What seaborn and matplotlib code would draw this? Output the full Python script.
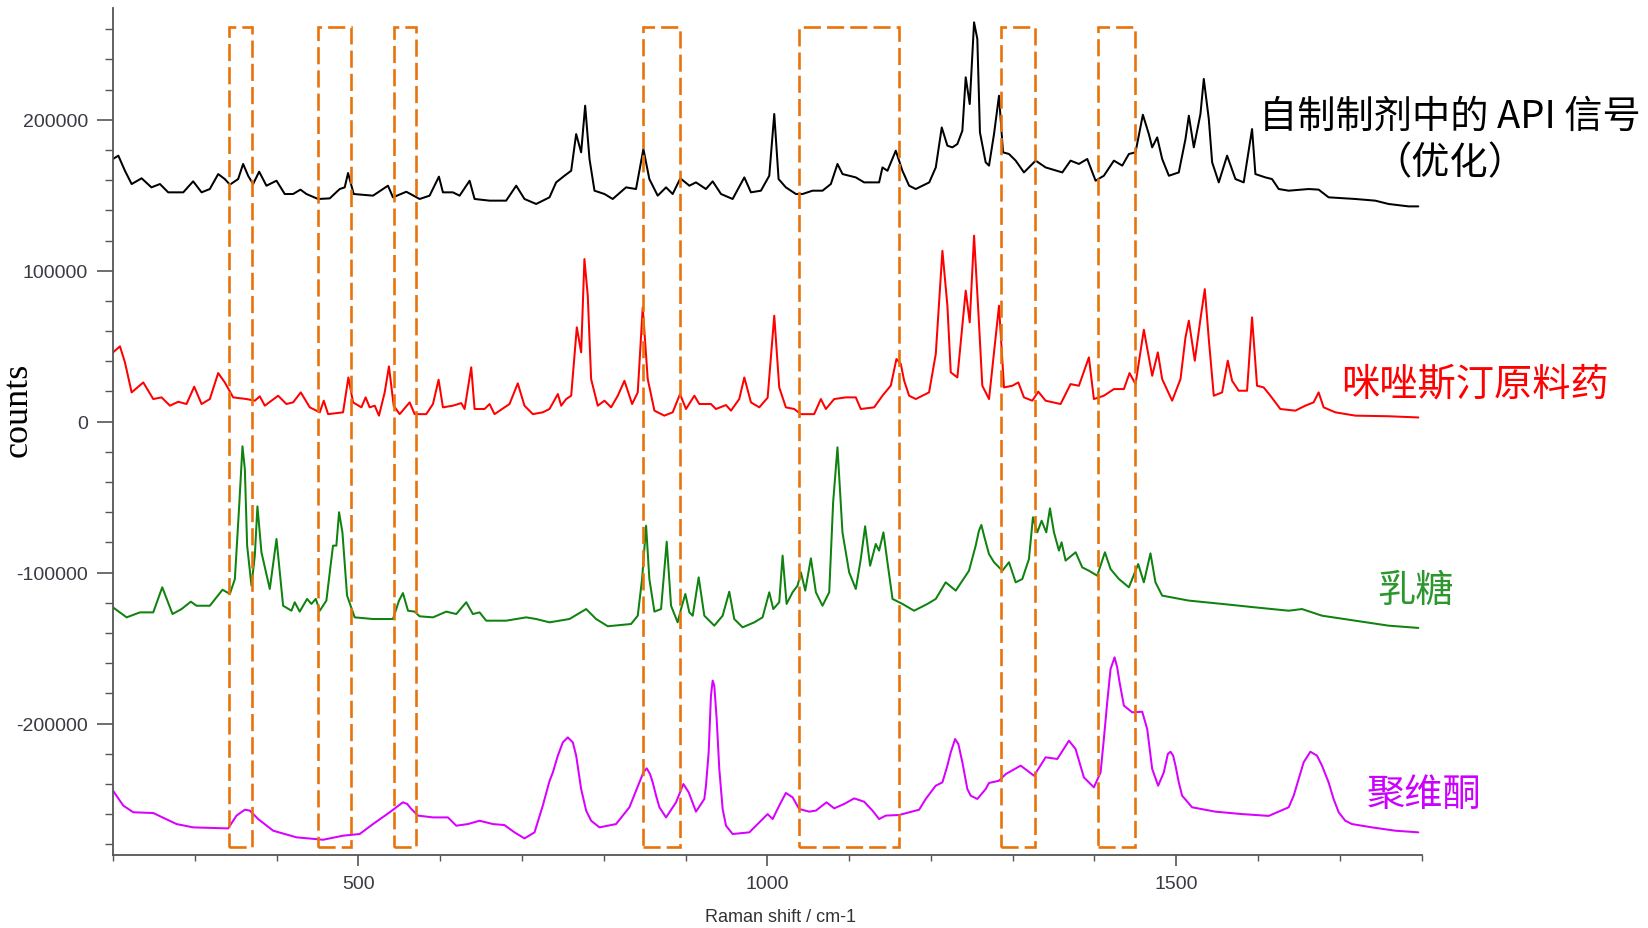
import matplotlib
matplotlib.use("Agg")
import matplotlib.pyplot as plt
import numpy as np
import pandas as pd
import seaborn as sns
from matplotlib.patches import Rectangle
from matplotlib.ticker import MultipleLocator, FuncFormatter

# ---------------- data (Raman shift / counts) ----------------
api_x = [200, 206.5, 214.6, 222.8, 235, 247, 257.4, 267.5, 285.9, 298, 308.3, 318.4, 328.6, 336.7, 342.9, 353,
         359.1, 365.2, 371.3, 378.7, 387.6, 399.9, 410, 420.2, 429.2, 436.5, 450.7, 465, 477.2, 483.3, 487.4, 494.3,
         517.9, 536.2, 542.3, 558.6, 574.9, 587.1, 598.5, 603.4, 615.6, 623.8, 636, 642.1, 660.4, 680.7, 693, 703.1,
         717.4, 733.7, 741.8, 752, 760.2, 766.3, 772.4, 777.3, 782.6, 788.7, 800.9, 811, 827.3, 839.5, 848.5, 855.8,
         866, 876.2, 884.3, 893.7, 904.7, 912.8, 925, 933.2, 943.4, 957.6, 971.9, 980, 992.2, 1002.4, 1008.5, 1013.8,
         1022.7, 1035, 1043.1, 1055.3, 1067.5, 1077.7, 1085.8, 1092, 1108.2, 1118.4, 1136.7, 1140.8, 1146.9, 1157.1,
         1165.2, 1173.4, 1181.5, 1198, 1206, 1213.3, 1220.2, 1226.3, 1232.4, 1238.5, 1242.6, 1247.5, 1252.8, 1256.8,
         1260, 1267, 1271.1, 1277.2, 1283.3, 1288.2, 1295.5, 1303.7, 1313.8, 1328.1, 1340.3, 1360.7, 1370.8, 1381,
         1391.2, 1401.4, 1411.5, 1423.8, 1434, 1442.1, 1450.2, 1459.2, 1466.5, 1470.6, 1476.7, 1482.8, 1491, 1503.1,
         1511.3, 1515.4, 1521.5, 1529.6, 1533.7, 1539.8, 1543.9, 1552, 1562.2, 1572.4, 1582.5, 1592.7, 1596.8, 1609,
         1617.1, 1625.3, 1637.5, 1661.9, 1674.1, 1686.3, 1719, 1743.3, 1759.6, 1784.1, 1796]
api_y = [174000, 176200, 166200, 157400, 161200, 155200, 157400, 151900, 151900, 159200, 151900, 154100, 164000,
         160700, 157000, 160700, 170700, 162900, 157400, 165600, 156300, 159600, 150800, 150800, 153700, 150800,
         147500, 147900, 154100, 155200, 164700, 150800, 149700, 156300, 148600, 152300, 147500, 149700, 162300,
         151900, 151900, 149700, 159600, 147500, 146400, 146400, 156300, 147500, 144200, 148600, 158500, 162900,
         166200, 190500, 178400, 209300, 174000, 153000, 150800, 147500, 155200, 154100, 180600, 160700, 149700,
         155200, 150800, 161200, 156300, 158500, 154100, 159200, 150800, 147500, 161800, 151900, 153000, 162900,
         203800, 160700, 155200, 150800, 150800, 153000, 153000, 157400, 170700, 164000, 161800, 158500, 158500,
         168400, 166200, 179500, 166200, 156300, 154100, 158500, 168400, 194900, 182800, 181700, 183900, 192700,
         228100, 210400, 264500, 253500, 191600, 171800, 169600, 190500, 215900, 178400, 177300, 172900, 165100,
         172900, 168400, 165100, 172900, 170700, 174000, 159600, 162900, 172900, 169600, 177300, 178400, 203300,
         190500, 181700, 188300, 174000, 162900, 165100, 187200, 202700, 181700, 203800, 227000, 200500, 171800,
         158500, 176200, 160700, 158500, 193800, 164000, 161800, 160700, 154100, 153000, 154100, 153700, 148600,
         147500, 146400, 144200, 142600, 142600]

raw_x = [200, 208.5, 214.6, 222.8, 237, 249.2, 259.4, 269.6, 279.8, 289.9, 299.3, 308.3, 318.4, 328.6, 336.7, 346.9,
         363.2, 373.4, 379.5, 385.6, 401.9, 412, 420.2, 429.6, 440.6, 452.8, 457.7, 463, 481.3, 487.8, 493.5, 503.7,
         508.9, 513.8, 520, 525.2, 532.2, 537.4, 543.2, 550.5, 562.7, 568.8, 583, 591.2, 598.1, 603.4, 615.6, 625.8,
         629.9, 638, 642.1, 654.3, 660.4, 666.5, 684.8, 694.9, 703.1, 713.3, 725.5, 733.7, 743.9, 748, 754.1, 760.2,
         767.1, 772.4, 776.4, 780.5, 784.6, 792.7, 800.9, 809, 817.2, 825.3, 834.7, 841.6, 847.7, 853.8, 862, 874.1,
         884.3, 893.3, 900.6, 910.8, 916.9, 931.1, 937.2, 949.5, 955.6, 965.7, 971.9, 980, 990.2, 1000.4, 1008.5,
         1014.6, 1022.7, 1032.9, 1041.1, 1057.3, 1065.5, 1071.6, 1081.8, 1096, 1108.2, 1114.3, 1130.6, 1140.8, 1151,
         1157.9, 1163.2, 1167.3, 1173.4, 1181.5, 1197.8, 1206, 1214.1, 1220.2, 1224.3, 1232.4, 1238.5, 1242.6, 1247.5,
         1252.8, 1258.1, 1262.9, 1271.1, 1277.2, 1283.3, 1289.4, 1299.6, 1306.9, 1313.8, 1324, 1331.3, 1340.3,
         1358.6, 1370.8, 1381, 1393.2, 1399.3, 1411.5, 1423.8, 1436, 1442.9, 1450.2, 1460.4, 1470.6, 1477.5, 1482.8,
         1495, 1505.2, 1511.3, 1515.4, 1522.7, 1529.6, 1534.9, 1539.8, 1545.9, 1556.1, 1563, 1568.3, 1576.4, 1586.6,
         1592.7, 1598.8, 1606.9, 1615.1, 1627.3, 1645.6, 1657.8, 1668, 1674.1, 1680.2, 1694.5, 1719, 1759.6, 1796]
raw_y = [45900, 49900, 39300, 19400, 26000, 15000, 16100, 10600, 13200, 11700, 23200, 11700, 15000, 32200, 26000,
         16100, 15000, 13900, 16800, 10600, 17200, 11700, 12800, 19400, 9500, 6200, 13900, 5000, 6200, 29300, 12800,
         9500, 16100, 9500, 10600, 4000, 19400, 36600, 10600, 5000, 12800, 5000, 5000, 11700, 27800, 9500, 10600,
         12300, 8400, 36000, 8400, 8400, 11700, 5000, 11700, 25400, 10600, 5000, 6200, 8400, 18300, 10600, 15000,
         17200, 62500, 45900, 107700, 83400, 28200, 10600, 13900, 9500, 17200, 27100, 11700, 19400, 75700, 28200,
         7300, 4000, 6200, 18300, 8400, 17200, 11700, 11700, 8400, 11000, 7300, 15000, 29300, 12800, 9500, 15900,
         70200, 22700, 9500, 8400, 5000, 5000, 15000, 8400, 15000, 16100, 16100, 8400, 9500, 17200, 23900, 41500,
         38300, 27200, 17200, 15000, 19400, 44900, 113200, 76800, 32700, 29300, 63600, 86800, 65800, 123200, 72400,
         23800, 15000, 45900, 76800, 22700, 23800, 26000, 16100, 13900, 19900, 13900, 11700, 24900, 23800, 42600,
         15000, 17200, 21600, 21600, 32200, 24900, 60900, 30400, 45900, 28200, 13900, 28200, 55800, 66900, 40400,
         68000, 87800, 54700, 17200, 19400, 40400, 27100, 20500, 20500, 69100, 23800, 22700, 17200, 8400, 7300,
         10600, 12800, 19400, 9500, 6200, 4000, 3600, 2800]

lac_x = [200, 216.7, 232.9, 249.2, 260.2, 272.8, 283.8, 295.2, 302.1, 318.4, 333.9, 342.9, 349, 354.3, 358.3, 361.2,
         364, 369.3, 373.4, 376.6, 381.5, 391.7, 399.9, 404.7, 408, 418.2, 422.2, 428.3, 437.3, 442.6, 447.9, 452.8,
         460.9, 469, 473.1, 476.4, 480.5, 486.2, 495.5, 517.9, 542.3, 549.7, 554.5, 560.7, 568.8, 574.9, 591.2, 607.5,
         619.7, 631.9, 640, 648.2, 656.3, 680.7, 705.2, 717.4, 733.7, 758.1, 778.5, 790.7, 805, 833.4, 841.6, 846.9,
         851.8, 855.8, 862, 870.1, 877, 882.3, 890.4, 894.5, 899.8, 904.7, 908.8, 916.1, 923, 935.2, 945.4, 953.5,
         959.6, 969.8, 984.1, 994.2, 1002.4, 1007.3, 1014.6, 1018.7, 1023.6, 1030.9, 1037, 1041.1, 1046.4, 1053.3,
         1059.4, 1067.5, 1075.7, 1080.5, 1085.8, 1091.9, 1100.1, 1108.2, 1114.3, 1119.6, 1125.7, 1132.6, 1136.7,
         1142, 1146.9, 1153.1, 1165.2, 1179.5, 1195.8, 1206, 1218.1, 1230.4, 1246.6, 1254.8, 1258.8, 1261.7, 1265,
         1271, 1277.2,
         1287.4, 1295.5, 1303.7, 1311.8, 1319.9, 1324.8, 1330.1, 1335.4, 1341.1, 1345.6, 1350.5, 1356.6, 1359.8,
         1364.7, 1377, 1385.1, 1393.2, 1403.4, 1412.8, 1419.7, 1429.9, 1442.1, 1453.5, 1460.4, 1468.5, 1474.6,
         1482.8, 1515.4, 1556.1, 1596.8, 1637.5, 1653.8, 1678.2, 1719, 1759.6, 1796]
lac_y = [-123000, -129600, -126300, -126300, -109700, -127400, -124100, -119200, -121900, -121900, -111300, -114100,
         -104200, -55600, -16300, -31300, -82100, -108600, -88700, -56100, -86500, -110800, -77700, -104200, -121900,
         -125200, -119600, -125800, -117400, -120700, -117400, -125200, -118500, -82100, -82100, -60000, -73300,
         -115200, -129600, -130700, -130700, -118500, -113500, -125200, -125800, -128900, -129600, -125800, -127400,
         -119600, -127400, -126300, -131800, -131800, -129600, -130700, -132900, -130700, -124100, -130700, -135500,
         -134000, -128500, -104200, -68900, -104200, -125800, -124100, -79500, -121900, -132900, -124100, -114100,
         -126300, -128500, -103100, -128500, -135100, -128500, -112600, -130700, -136200, -132900, -129600, -113000,
         -124100, -119600, -88700, -120700, -113000, -108600, -99800, -111900, -90500, -113000, -121900, -113000,
         -53400, -17000, -73300, -99800, -110800, -91000, -69300, -95400, -81000, -85400, -73300, -93100, -117400,
         -120700, -125200, -120700, -117400, -106400, -111900, -98700, -82100, -72200, -68400, -75500,
         -87600, -93100,
         -98700, -93100, -106400, -104200, -91000, -63300, -73300, -65600, -73300, -57400, -73300, -85400, -79900,
         -92000, -86500, -96500, -98700, -102000, -86500, -97600, -104200, -109700, -94300, -106400, -87200, -106400,
         -115200, -118500, -120700, -123000, -125200, -124100, -128500, -131800, -135100, -136600]

pvp_x = [200, 212.6, 224.8, 249.2, 277.7, 298, 340.8, 351, 361.2, 367.3, 377.5, 395.8, 424.3, 456.9, 481.3, 501.6,
         517.9, 538.3, 546.4, 554.5, 559.8, 564.7, 572.9, 591.2, 609.5, 619.7, 634, 648.2, 664.5, 678.7, 690.9, 703.1,
         715.4, 725.5, 733.7, 737.8, 743.9, 750, 756.1, 762.2, 766.3, 772.4, 778.5, 784.6, 794.8, 815.1, 831.4, 843.6,
         848.5, 852.6, 856.6, 859.9, 864, 868.1, 876.2, 888.4, 897.4, 903.9, 912.8, 923, 925, 928.3, 931.1, 933.2,
         935.2, 938.1, 941.3, 945.4, 949.5, 957.6, 978, 990.2, 1000.4, 1006.5, 1014.6, 1022.7, 1030.9, 1039, 1051.2,
         1059.4, 1072.4, 1081.8, 1094, 1106.2, 1118.4, 1128.6, 1136.7, 1144.9, 1161.2, 1185.6, 1193.7, 1205.9, 1214.1,
         1220.2, 1224.3, 1229.6, 1233.6, 1238.5, 1244.6, 1248.7, 1256.8, 1267, 1271, 1283.3, 1291.5, 1309.8, 1326.1,
         1340.3, 1354.6, 1368.8, 1376.9, 1387.1, 1399.3, 1407.5, 1411.5, 1415.6, 1419.7, 1424.6, 1427.8, 1430.7, 1436,
         1446.2, 1458.4, 1464.5, 1470.6, 1477.9, 1484.8, 1489.7, 1493, 1496.2, 1499.1, 1503.1, 1507.2, 1519.4, 1547.9,
         1580.5, 1613.1, 1637.5, 1643.6, 1649.7, 1655.8, 1664, 1672.1, 1678.2, 1686.3, 1692.4, 1698.6, 1706.7, 1714.8,
         1739.3, 1767.8, 1796]
pvp_y = [-244400, -254300, -258700, -259200, -266500, -268700, -269400, -260900, -257000, -257600, -263200, -270900,
         -275300, -276900, -274200, -273100, -266500, -258700, -255400, -252100, -253200, -256500, -260900, -262100,
         -262100, -267600, -266500, -264300, -266500, -267200, -272000, -276000, -272000, -254300, -238000, -232300,
         -221200, -212400, -209100, -212400, -221200, -243300, -257600, -264300, -268700, -266500, -255400, -238900,
         -232300, -229600, -233400, -238900, -247700, -255400, -262100, -252100, -240000, -245500, -258300, -249900,
         -241100, -219000, -181500, -171500, -174900, -196900, -230000, -256500, -267600, -273100, -272000, -265400,
         -259900, -263200, -254300, -245900, -248800, -256500, -258300, -257600, -252100, -256100, -253200, -249500,
         -251700, -257600, -263200, -260900, -260500, -257000, -249900, -241100, -238900, -227800, -219000, -210200,
         -213500, -225600, -243300, -247700, -249900, -243300, -239300, -237800, -233400, -227800, -234500, -222300,
         -223400, -211300, -216800, -235600, -242200, -232300, -210200, -185900, -163800, -156100, -162700, -172600,
         -188100, -192500, -192100, -203600, -230000, -241100, -232300, -220100, -218600, -221200, -227800, -238900,
         -247700, -255400, -258300, -259900, -261100, -255400, -247700, -236700, -225600, -218600, -221200, -227800,
         -238900, -249900, -258700, -264300, -266500, -268700, -270900, -272000]

series_names = ["API in formulation", "API raw material", "Lactose", "PVP"]
series_labels = ["自制制剂中的 API 信号\n（优化）", "咪唑斯汀原料药", "乳糖", "聚维酮"]

box_left = [342, 451, 544, 848, 1039, 1286, 1404]
box_right = [370.5, 491, 571, 893, 1161, 1327, 1449]
box_top = 261500
box_bottom = -281500

x_ticks = [500, 1000, 1500]
y_ticks = [-200000, -100000, 0, 100000, 200000]

# ---------------- plotting ----------------
sns.set_style("ticks")
plt.rcParams["font.family"] = ["Liberation Sans", "Noto Sans CJK SC", "DejaVu Sans"]
plt.rcParams["axes.unicode_minus"] = False

line_colors = ["#000000", "#ff0000", "#0f820f", "#d800ff"]
text_colors = ["#000000", "#ff0000", "#2e962e", "#cc00ff"]

frames = []
for name, xs, ys in zip(series_names, [api_x, raw_x, lac_x, pvp_x], [api_y, raw_y, lac_y, pvp_y]):
    frames.append(pd.DataFrame({"shift": xs, "counts": ys, "series": name}))
df = pd.concat(frames, ignore_index=True)

fig = plt.figure(figsize=(16.49, 9.29), dpi=100)
ax = fig.add_axes([113 / 1649, 73 / 929, 1308.6 / 1649, 846.7 / 929])

sns.lineplot(data=df, x="shift", y="counts", hue="series", units="series", estimator=None, sort=False,
             palette=dict(zip(series_names, line_colors)), linewidth=1.45, legend=False, ax=ax)

box_color = "#e8730c"
for l, r in zip(box_left, box_right):
    ax.add_patch(Rectangle((l, box_bottom), r - l, box_top - box_bottom, fill=False,
                           edgecolor=box_color, linewidth=1.9, linestyle=(0, (6.5, 2.3)), zorder=5))

ax.set_xlim(200, 1800)
ax.set_ylim(-287000, 273800)
ax.set_xticks(x_ticks)
ax.set_yticks(y_ticks)
ax.xaxis.set_minor_locator(MultipleLocator(100))
ax.yaxis.set_minor_locator(MultipleLocator(20000))
ax.yaxis.set_major_formatter(FuncFormatter(lambda v, p: f"{int(round(v))}"))
ax.xaxis.set_major_formatter(FuncFormatter(lambda v, p: f"{int(round(v))}"))

for s in ["top", "right"]:
    ax.spines[s].set_visible(False)
for s in ["left", "bottom"]:
    ax.spines[s].set_color("#555555")
    ax.spines[s].set_linewidth(1.3)

ax.tick_params(axis="y", which="major", length=11.5, width=1.2, color="#555555", pad=6.5,
               labelsize=14, labelcolor="#3a3a44")
ax.tick_params(axis="y", which="minor", length=5.8, width=1.0, color="#555555")
ax.tick_params(axis="x", which="major", length=8, width=1.2, color="#555555", pad=6.3,
               labelsize=14, labelcolor="#3a3a44")
ax.tick_params(axis="x", which="minor", length=4, width=1.0, color="#555555")

ax.set_xlabel("Raman shift / cm-1", fontsize=13, color="#333333")
ax.xaxis.set_label_coords(0.51, -0.063)
ax.set_ylabel("counts", fontsize=26, family=["Liberation Serif", "DejaVu Serif"], color="#000000",
              va="center")
ax.yaxis.set_label_coords(-0.0726, 0.527)

label_pos_x = [1834, 1865, 1793, 1803]
label_pos_y = [186900, 25000, -112100, -246600]
for txt, xx, yy, c in zip(series_labels, label_pos_x, label_pos_y, text_colors):
    ax.text(xx, yy, txt, color=c, fontsize=27.5, ha="center", va="center", linespacing=1.25,
            family=["Noto Sans CJK SC", "DejaVu Sans"], clip_on=False)

fig.savefig("out.png", dpi=100)
